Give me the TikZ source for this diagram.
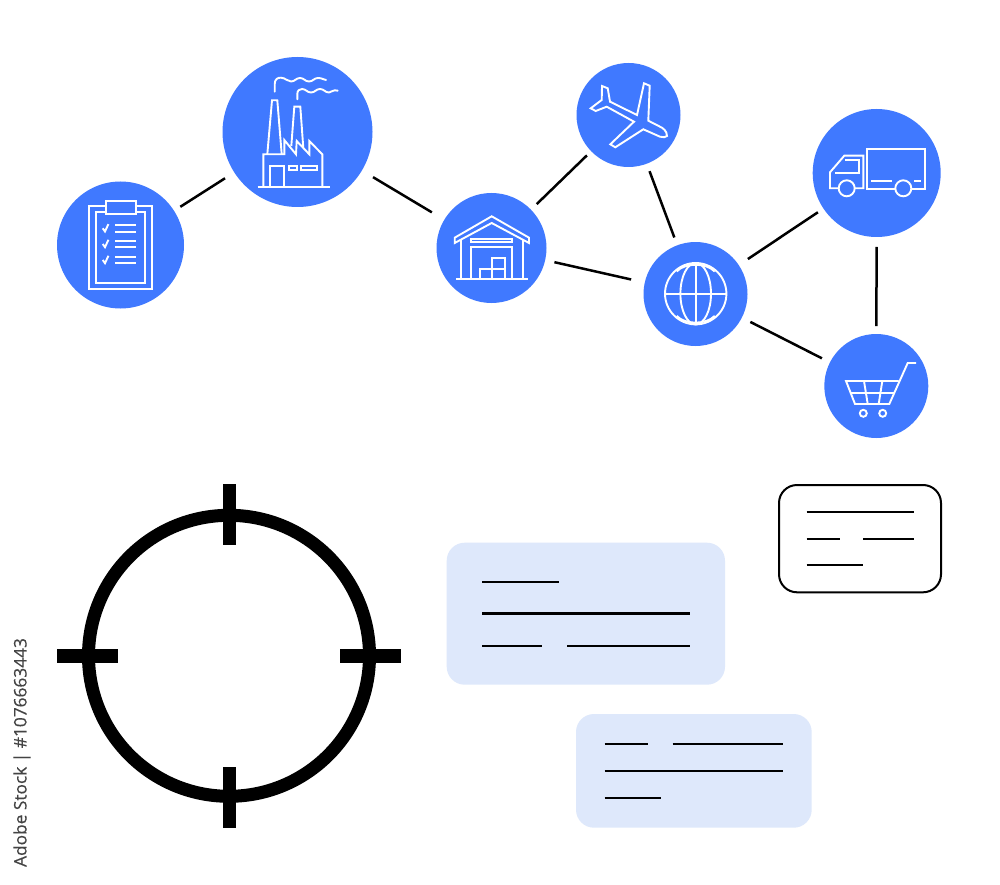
\documentclass[tikz,border=0pt]{standalone}
\usepackage{fontspec}
\setmainfont{Open Sans}
\newfontfamily\creditfont[FakeBold=0.35]{Open Sans}
\definecolor{hubblue}{HTML}{4079FF}
\definecolor{cardblue}{HTML}{DEE8FB}
\definecolor{idgray}{HTML}{444444}
\begin{document}
\begin{tikzpicture}[x=1pt,y=-1pt,
  hub/.style={circle,fill=hubblue,inner sep=0pt,outer sep=0pt},
  link/.style={draw=black,line width=2.5pt},
  icon/.style={draw=white,line width=1.9pt,line join=miter},
  cardline/.style={draw=black,line width=2.1pt},
  softcard/.style={fill=cardblue,rounded corners=18pt},
  tick/.style={fill=black}]
\useasboundingbox (0,0) rectangle (1000,885);
\fill[white] (0,0) rectangle (1000,885);

% hubs
\node[hub,minimum size=127pt] (clip) at (120.5,245) {};
\node[hub,minimum size=150pt] (fact) at (297.5,132) {};
\node[hub,minimum size=110pt] (ware) at (491.5,248) {};
\node[hub,minimum size=104pt] (plane) at (628.5,115) {};
\node[hub,minimum size=104pt] (globe) at (695.5,294) {};
\node[hub,minimum size=128pt] (truck) at (876.7,173) {};
\node[hub,minimum size=104pt] (cart) at (876.3,386) {};

% connectors
\draw[link,shorten <=7.5pt,shorten >=11pt] (clip) -- (fact);
\draw[link,shorten <=13pt,shorten >=14.5pt] (fact) -- (ware);
\draw[link,shorten <=8pt,shorten >=6pt] (ware) -- (plane);
\draw[link,shorten <=8pt,shorten >=8.4pt] (plane) -- (globe);
\draw[link,shorten <=9.5pt,shorten >=14pt] (ware) -- (globe);
\draw[link,shorten <=11pt,shorten >=6.7pt] (globe) -- (truck);
\draw[link,shorten <=9.5pt,shorten >=9pt] (globe) -- (cart);
\draw[link,shorten <=10pt,shorten >=8pt] (truck) -- (cart);

% clipboard icon
\draw[icon] (89.3,205.7) rectangle (151.7,289.3);
\draw[icon] (95.7,211.7) rectangle (145.3,283);
\draw[icon,fill=hubblue] (106,201.3) rectangle (135.7,213.7);
\foreach \y in {228.3,244,260}{
  \draw[icon] (102.7,\y) -- (105,\y+3.2) -- (108.4,\y-4.2);
  \draw[icon] (115,\y-3.3) -- (135.7,\y-3.3);
  \draw[icon] (115,\y+3.3) -- (135.7,\y+3.3);
}

% factory icon
\draw[icon] (257.7,186.7) -- (330,186.7);
\draw[icon] (263.3,186.7) -- (263.3,154.3) -- (284.3,154.3) -- (284.3,140) -- (296,154.3) -- (296.7,141) -- (309.3,154.3) -- (309.3,141) -- (322.3,154.3) -- (322.3,186.7);
\draw[icon] (267.3,154.3) -- (272,100.3) -- (277.3,100.3) -- (281.7,154.3);
\draw[icon] (291.3,146) -- (294.3,106.7) -- (300.3,106.7) -- (303.3,148);
\draw[icon] (270,186.7) -- (270,166) -- (284.3,166) -- (284.3,186.7);
\draw[icon] (289.3,166) rectangle (296.7,170.3);
\draw[icon] (301,166) rectangle (317,170.3);
\draw[icon,line cap=round] (274.7,91.7) -- (274.7,84) .. controls (274.7,79) and (278,77.5) .. (281,77.7)
  .. controls (286,78) and (287,81.5) .. (291,81.5) .. controls (295,81.5) and (296,78) .. (300,78)
  .. controls (304,78) and (305,81.5) .. (309,81.5) .. controls (313,81.5) and (314,78) .. (318,78)
  .. controls (322,78) and (323,79.5) .. (326,80);
\draw[icon,line cap=round] (297.3,99.3) -- (297.3,94) .. controls (297.3,90.5) and (299.5,89) .. (302,89)
  .. controls (306,89) and (307,92.5) .. (311,92.5) .. controls (315,92.5) and (316,89) .. (320,89)
  .. controls (324,89) and (325,92.5) .. (329,92.5) .. controls (332,92.5) and (333,89) .. (337.7,90.7);

% warehouse icon
\draw[icon] (491.7,216.3) -- (529,237.7) -- (529,243) -- (491.7,223) -- (454.7,243) -- (454.7,237.7) -- cycle;
\draw[icon] (460.7,240) -- (460.7,279);
\draw[icon] (523,240) -- (523,279);
\draw[icon] (456,279) -- (528.3,279);
\draw[icon] (471.3,238.7) rectangle (512.3,242.3);
\draw[icon] (471.3,279) -- (471.3,246.7) -- (512.3,246.7) -- (512.3,279);
\draw[icon] (479.7,279) -- (479.7,268.7) -- (505.3,268.7) -- (505.3,279);
\draw[icon] (492,279) -- (492,258.3) -- (505.3,258.3) -- (505.3,268.7);

% plane icon
\draw[icon] (667,136) .. controls (667,131) and (663,128) .. (660,126.7) -- (648.3,120.7) -- (649.7,85.7) -- (644,83.3) -- (637,115) -- (610,101.7) -- (607.7,88.3) -- (602,86) -- (601.7,100) -- (590.7,108.3) -- (595.7,111) -- (606.7,106.7) -- (634,121.7) -- (610.3,144.3) -- (615.3,147.3) -- (643.3,129.3) -- (660,136.7) .. controls (663,137.5) and (666,137.5) .. (667,136) -- cycle;

% globe icon
\draw[icon] (695.7,293.7) circle[radius=30.7];
\draw[icon] (695.7,293.7) ellipse[x radius=15.3,y radius=30.7];
\draw[icon] (695.7,263) -- (695.7,324.4);
\draw[icon] (665,293.7) -- (726.4,293.7);
\draw[icon] (676.7,271.5) .. controls (685,262.5) and (706,262.5) .. (714.7,271.5);
\draw[icon] (676.7,315.9) .. controls (685,324.9) and (706,324.9) .. (714.7,315.9);

% truck icon
\draw[icon] (867,149.3) rectangle (925,189);
\draw[icon] (863.3,188.3) -- (863.3,155.7) -- (844.3,155.7) -- (830,172.3) -- (830,188.3) -- cycle;
\draw[icon] (835,173) -- (859.3,173) -- (859.3,160) -- (845,160);
\draw[icon,fill=hubblue] (846.7,188.3) circle[radius=8];
\draw[icon,fill=hubblue] (903.3,188.3) circle[radius=8];
\draw[icon] (871,180.7) -- (891.7,180.7);
\draw[icon] (914,180.7) -- (921.3,180.7);

% cart icon
\draw[icon] (916,363) -- (907.7,363) -- (889.3,404) -- (855,404) -- (846,381) -- (898.3,381);
\draw[icon] (850.7,392.7) -- (894.3,392.7);
\draw[icon] (864,381) -- (867.7,404);
\draw[icon] (882.3,381) -- (878.7,404);
\draw[icon] (863.3,413.3) circle[radius=3.5];
\draw[icon] (882.7,413.3) circle[radius=3.5];

% crosshair
\draw[black,line width=13pt] (229,655.8) circle[radius=140.5];
\fill[tick] (222.5,484.3) rectangle (235.7,545.3);
\fill[tick] (222.5,766.7) rectangle (235.7,827.7);
\fill[tick] (57,649.3) rectangle (118.3,662.7);
\fill[tick] (339.7,649.3) rectangle (400.7,662.7);

% cards
\fill[softcard] (446.7,542.7) rectangle (725,684.7);
\draw[cardline] (482,581.7) -- (559.3,581.7);
\draw[cardline] (482,613.5) -- (690,613.5);
\draw[cardline] (482,645.7) -- (541.5,645.7);
\draw[cardline] (567,645.7) -- (690,645.7);

\fill[softcard] (576,714) rectangle (811.7,827.7);
\draw[cardline] (604.5,744.3) -- (647.5,744.3);
\draw[cardline] (672.5,744.3) -- (783,744.3);
\draw[cardline] (604.5,771) -- (783,771);
\draw[cardline] (604.5,797.7) -- (660.5,797.7);

\draw[black,line width=2pt,rounded corners=18pt] (779,485) rectangle (941,592.3);
\draw[cardline] (806.5,512.3) -- (913.5,512.3);
\draw[cardline] (806.5,538.7) -- (840,538.7);
\draw[cardline] (863,538.7) -- (913.5,538.7);
\draw[cardline] (806.5,565) -- (863,565);

% side credit
\node[rotate=90,text=idgray,font=\creditfont\fontsize{17.3pt}{19pt}\selectfont,inner sep=0pt] (credit) at (22,752.5) {Adobe Stock | \#1076663443};
\end{tikzpicture}
\end{document}
